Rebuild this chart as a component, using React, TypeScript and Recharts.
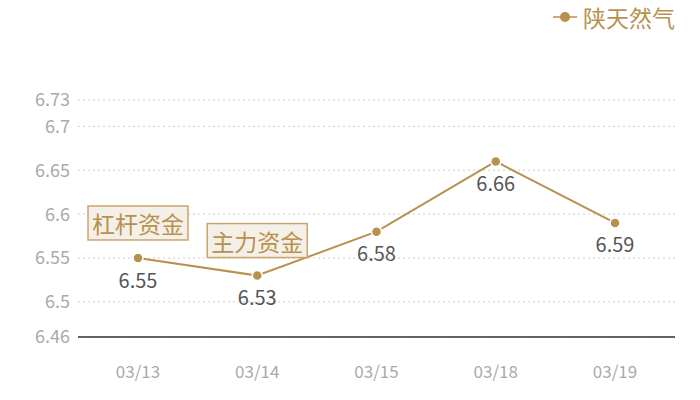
import { LineChart, Line, XAxis, YAxis, CartesianGrid, Legend, LabelList } from 'recharts';

const dates = ['03/13', '03/14', '03/15', '03/18', '03/19'];
const prices = [6.55, 6.53, 6.58, 6.66, 6.59];
// 标注：只有前两个点有
const tags = ['杠杆资金', '主力资金', '', '', ''];
const yTicks = [6.46, 6.5, 6.55, 6.6, 6.65, 6.7, 6.73];
const seriesName = '陕天然气';

const GOLD = '#B8914E';
const FONT = '"Noto Sans CJK SC", "Noto Sans", sans-serif';

const chartData = dates.map((d, i) => ({ date: d, price: prices[i], tag: tags[i] }));

const ValueLabel = (props: any) => {
  const { x, y, value } = props;
  return (
    <text x={x} y={y + 21} textAnchor="middle" dominantBaseline="central" fill="#555" fontSize={20} fontFamily={FONT}>
      {value}
    </text>
  );
};

const TagLabel = (props: any) => {
  const { x, y, index } = props;
  const text = tags[index];
  if (!text) return null;
  return (
    <g>
      <rect x={x - 50} y={y - 52} width={100} height={34} fill="#F4EFE7" stroke="#C9A56E" strokeWidth={1.5} />
      <text x={x} y={y - 35} textAnchor="middle" dominantBaseline="central" fill={GOLD} fontSize={23} fontFamily={FONT}>
        {text}
      </text>
    </g>
  );
};

const LegendContent = () => (
  <div style={{ display: 'flex', alignItems: 'center', justifyContent: 'flex-end', height: 30, fontFamily: FONT }}>
    <svg width={26} height={12} style={{ marginRight: 4 }}>
      <line x1={0} y1={6} x2={24} y2={6} stroke={GOLD} strokeWidth={1.5} />
      <circle cx={12} cy={6} r={5} fill={GOLD} />
    </svg>
    <span style={{ color: GOLD, fontSize: 23 }}>{seriesName}</span>
  </div>
);

const App = () => (
  <div style={{ position: 'absolute', left: 0, top: 0, background: '#fff' }}>
    <LineChart width={700} height={400} data={chartData} margin={{ top: 70, right: 25, bottom: 23, left: 0 }}>
      <CartesianGrid vertical={false} stroke="#ccc" strokeDasharray="2 3" />
      <XAxis
        dataKey="date"
        padding={{ left: 60, right: 60 }}
        axisLine={{ stroke: '#333', strokeWidth: 1.5 }}
        tickLine={false}
        tickSize={0}
        tickMargin={29}
        height={40}
        tick={{ fill: '#aaa', fontSize: 17, fontFamily: FONT }}
      />
      <YAxis
        domain={[6.46, 6.73]}
        ticks={yTicks}
        interval={0}
        axisLine={false}
        tickLine={false}
        tickSize={0}
        tickMargin={8}
        width={78}
        tick={{ fill: '#aaa', fontSize: 18, fontFamily: FONT }}
      />
      <Legend verticalAlign="top" align="right" wrapperStyle={{ top: 2, right: 25 }} content={LegendContent} />
      <Line
        dataKey="price"
        name={seriesName}
        stroke={GOLD}
        strokeWidth={2}
        dot={{ r: 5, fill: GOLD, stroke: '#fff', strokeWidth: 1.5 }}
        activeDot={false}
        isAnimationActive={false}
      >
        <LabelList dataKey="price" content={ValueLabel} />
        <LabelList dataKey="tag" content={TagLabel} />
      </Line>
    </LineChart>
  </div>
);

export default App;
